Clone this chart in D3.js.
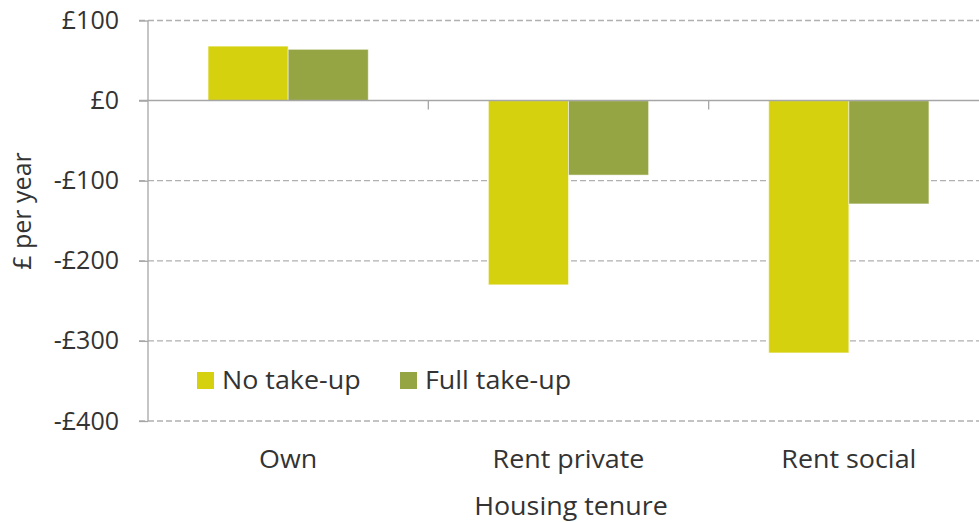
<!DOCTYPE html>
<html><head><meta charset="utf-8">
<script src="https://cdn.jsdelivr.net/npm/d3@7"></script>
<style>
body{margin:0;background:#fff;}
text{font-family:"Open Sans","Noto Sans",sans-serif;fill:#333;}
</style></head>
<body><svg id="c" width="979" height="522"></svg>
<script>
const categories = ["Own", "Rent private", "Rent social"];
const seriesNames = ["No take-up", "Full take-up"];
const noTakeUp = [68, -230, -315];
const fullTakeUp = [64, -93, -129];
const yTicks = [100, 0, -100, -200, -300, -400];
const yTickLabels = ["£100", "£0", "-£100", "-£200", "-£300", "-£400"];
const colors = ["#d5d10e", "#95a543"];

const svg = d3.select("#c");
const mLeft = 148, mRight = 989, mTop = 20.5, mBottom = 421;
const stretch = 1.075;
const x = d3.scaleBand().domain(categories).range([mLeft, mRight]).paddingInner(0).paddingOuter(0);
const xs = d3.scaleBand().domain(seriesNames).range([0, x.bandwidth()]).paddingInner(0).paddingOuter(0.75);
const y = d3.scaleLinear().domain([-400, 100]).range([mBottom, mTop]);

// gridlines
svg.append("g").selectAll("line").data(yTicks.filter(d => d !== 0)).join("line")
  .attr("x1", mLeft - 9).attr("x2", 979).attr("y1", d => y(d)).attr("y2", d => y(d))
  .attr("stroke", "#b0b0b0").attr("stroke-width", 1.3).attr("stroke-dasharray", "6,3");

// y ticks labels
const yAxis = d3.axisLeft(y).tickValues(yTicks).tickFormat((d, i) => yTickLabels[i]).tickSize(9).tickPadding(20);
const ga = svg.append("g").attr("transform", `translate(${mLeft},0)`).call(yAxis);
ga.select(".domain").remove();
ga.selectAll(".tick line").attr("stroke", "#a6a6a6").attr("stroke-width", 1.3);
ga.selectAll(".tick text").attr("font-size", 25).attr("fill", "#333").attr("font-family", "'Open Sans','Noto Sans',sans-serif");

// bars
const data = categories.map((c, i) => ({c, vals: [noTakeUp[i], fullTakeUp[i]]}));
const groups = svg.append("g").selectAll("g").data(data).join("g")
  .attr("transform", d => `translate(${x(d.c)},0)`);
groups.selectAll("rect").data(d => d.vals.map((v, j) => ({v, s: seriesNames[j], j}))).join("rect")
  .attr("x", d => xs(d.s)).attr("width", xs.bandwidth())
  .attr("y", d => y(Math.max(0, d.v))).attr("height", d => Math.abs(y(d.v) - y(0)))
  .attr("fill", d => colors[d.j]).attr("stroke", "rgba(255,255,255,0.5)").attr("stroke-width", 1);

// y axis line
svg.append("line").attr("x1", mLeft).attr("x2", mLeft).attr("y1", mTop).attr("y2", mBottom)
  .attr("stroke", "#a6a6a6").attr("stroke-width", 1.3);

// zero line & category ticks
svg.append("line").attr("x1", mLeft - 9).attr("x2", 979).attr("y1", y(0)).attr("y2", y(0))
  .attr("stroke", "#a6a6a6").attr("stroke-width", 1.5);
svg.append("g").selectAll("line").data(categories.slice(1)).join("line")
  .attr("x1", d => x(d)).attr("x2", d => x(d)).attr("y1", y(0)).attr("y2", y(0) + 9)
  .attr("stroke", "#a6a6a6").attr("stroke-width", 1.3);

// category labels
svg.append("g").selectAll("text").data(categories).join("text")
  .attr("transform", d => `translate(${x(d) + x.bandwidth() / 2},468) scale(${stretch},1)`)
  .attr("text-anchor", "middle").attr("font-size", 25).text(d => d);

// axis titles
svg.append("text").attr("transform", `translate(571,515) scale(${stretch},1)`).attr("text-anchor", "middle").attr("font-size", 25).text("Housing tenure");
svg.append("text").attr("transform", "translate(31,211) rotate(-90)").attr("text-anchor", "middle").attr("font-size", 25).text("£ per year");

// legend
const legendX = [197, 400];
const lg = svg.append("g").selectAll("g").data(seriesNames).join("g")
  .attr("transform", (d, i) => `translate(${legendX[i]},372)`);
lg.append("rect").attr("width", 17).attr("height", 17).attr("fill", (d, i) => colors[i]);
lg.append("text").attr("transform", `translate(25,17) scale(${stretch},1)`).attr("font-size", 25).text(d => d);
</script></body></html>
